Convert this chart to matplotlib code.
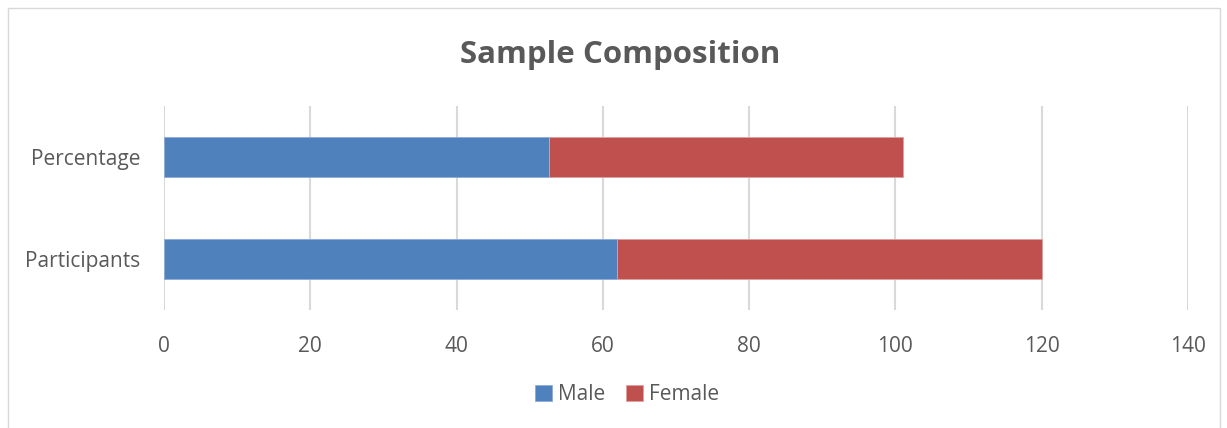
import matplotlib.pyplot as plt
from matplotlib.patches import Rectangle

categories = ['Participants', 'Percentage']
male = [62, 52.7]
female = [58, 48.4]
xticks = [0, 20, 40, 60, 80, 100, 120, 140]

blue = '#4f81bd'
red = '#c0504d'
grey = '#595959'

plt.rcParams['font.family'] = ['Open Sans', 'DejaVu Sans']

fig = plt.figure(figsize=(12.27, 4.28), dpi=100)
# chart border
fig.patches.append(Rectangle((8 / 1227, -0.05), 1212 / 1227, 1.05 - 7.5 / 428,
                             transform=fig.transFigure, fill=False,
                             edgecolor='#d9d9d9', linewidth=1))

ax = fig.add_axes([164 / 1227, 1 - 310 / 428, 1024 / 1227, 204 / 428])

y = range(len(categories))
ax.barh(y, male, height=0.4, color=blue, label='Male', edgecolor='#8eaadb', linewidth=0.6)
ax.barh(y, female, left=male, height=0.4, color=red, label='Female', edgecolor='#e0a09e', linewidth=0.6)

ax.set_xlim(0, 140)
ax.set_ylim(-0.5, 1.5)
ax.set_xticks(xticks)
ax.set_yticks(list(y))
ax.set_yticklabels(categories)
ax.tick_params(axis='both', length=0, colors=grey, labelsize=15)
ax.tick_params(axis='x', pad=19)
ax.tick_params(axis='y', pad=17)
ax.grid(axis='x', color='#d9d9d9', linewidth=1.5)
ax.set_axisbelow(True)
for s in ax.spines.values():
    s.set_visible(False)

fig.text(620 / 1227, 1 - 55 / 428, 'Sample Composition', ha='center', va='center',
         fontsize=22.5, fontweight='bold', color=grey)

leg = fig.legend(loc='center', bbox_to_anchor=(627 / 1227, 1 - 395 / 428), ncol=2,
                 frameon=False, fontsize=15, handlelength=0.8, handleheight=0.8,
                 handletextpad=0.3, columnspacing=1.0)
for t in leg.get_texts():
    t.set_color(grey)

fig.savefig('out.png', dpi=100)
